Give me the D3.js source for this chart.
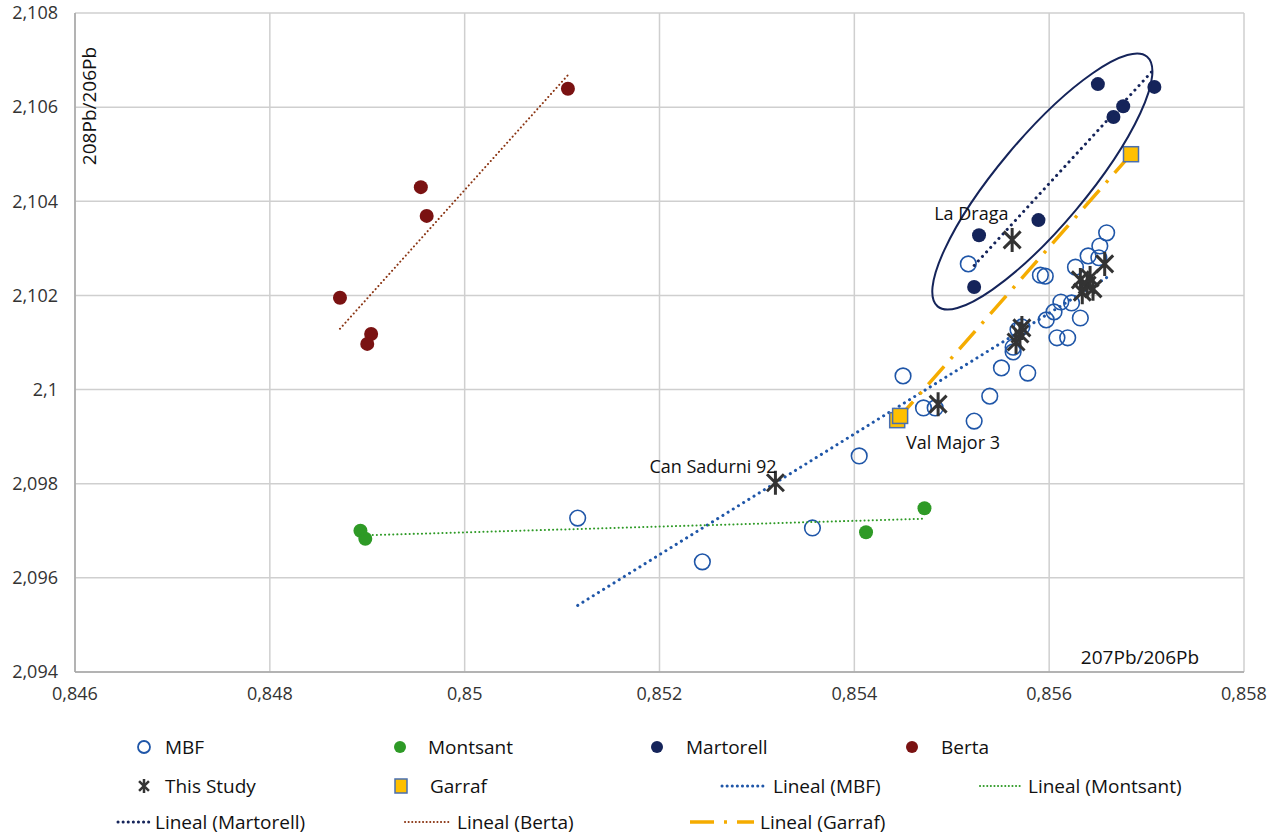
<!DOCTYPE html>
<html>
<head>
<meta charset="utf-8">
<title>Pb isotopes</title>
<script src="https://cdn.jsdelivr.net/npm/d3@7"></script>
<style>
  body { margin: 0; background: #fff; }
  svg text { font-family: "Open Sans", "Liberation Sans", sans-serif; fill: #111; }
</style>
</head>
<body>
<div id="chart"></div>
<script>
// ---- data (207Pb/206Pb, 208Pb/206Pb) ----
var mbfX = [0.85116, 0.85244, 0.85357, 0.85405, 0.85450, 0.85471, 0.85483, 0.85523, 0.85539, 0.85551,
            0.85578, 0.85563, 0.85568, 0.85572, 0.85597, 0.85608, 0.85619, 0.85632, 0.85605, 0.85612,
            0.85623, 0.85591, 0.85596, 0.85517, 0.85627, 0.85640, 0.85651, 0.85652, 0.85659, 0.85563];
var mbfY = [2.09727, 2.09634, 2.09706, 2.09859, 2.10029, 2.09961, 2.09961, 2.09933, 2.09986, 2.10046,
            2.10035, 2.10090, 2.10127, 2.10133, 2.10148, 2.10110, 2.10110, 2.10152, 2.10165, 2.10186,
            2.10184, 2.10243, 2.10241, 2.10267, 2.10260, 2.10284, 2.10280, 2.10305, 2.10333, 2.10080];

var montsantX = [0.84893, 0.84898, 0.85412, 0.85472];
var montsantY = [2.09700, 2.09683, 2.09697, 2.09748];

var martorellX = [0.85528, 0.85523, 0.85589, 0.85650, 0.85666, 0.85676, 0.85708];
var martorellY = [2.10328, 2.10218, 2.10360, 2.10649, 2.10579, 2.10602, 2.10643];

var bertaX = [0.84872, 0.84955, 0.84961, 0.84904, 0.84900, 0.85106];
var bertaY = [2.10195, 2.10430, 2.10369, 2.10118, 2.10097, 2.10639];

var studyX = [0.85319, 0.85486, 0.85562, 0.85566, 0.85570, 0.85572, 0.85632, 0.85639, 0.85634, 0.85645, 0.85642, 0.85657];
var studyY = [2.09802, 2.09969, 2.10318, 2.10101, 2.10118, 2.10131, 2.10233, 2.10222, 2.10207, 2.10214, 2.10237, 2.10267];

var garrafX = [0.85444, 0.85447, 0.85684];
var garrafY = [2.09935, 2.09944, 2.10500];

var xTicks = [0.846, 0.848, 0.85, 0.852, 0.854, 0.856, 0.858];
var yTicks = [2.094, 2.096, 2.098, 2.1, 2.102, 2.104, 2.106, 2.108];

var notes = [
  { text: "La Draga", x: 0.85562, y: 2.10318 },
  { text: "Can Sadurni 92", x: 0.85319, y: 2.09802 },
  { text: "Val Major 3", x: 0.85486, y: 2.09969 }
];

// ---- setup ----
var W = 1275, H = 834;
var pL = 75, pR = 1244, pT = 13, pB = 672;

var svg = d3.select("#chart").append("svg").attr("width", W).attr("height", H);

var x = d3.scaleLinear().domain([0.846, 0.858]).range([pL, pR]);
var y = d3.scaleLinear().domain([2.094, 2.108]).range([pB, pT]);

var loc = d3.formatLocale({ decimal: ",", thousands: ".", grouping: [3], currency: ["", ""] });
var fmt = loc.format(".3~f");

function pts(xs, ys) { return xs.map(function(v, i) { return { x: v, y: ys[i] }; }); }

// least squares fit drawn across the series range (like Excel trendline)
function fit(xs, ys) {
  var n = xs.length, mx = d3.mean(xs), my = d3.mean(ys);
  var sxy = 0, sxx = 0;
  for (var i = 0; i < n; i++) { sxy += (xs[i] - mx) * (ys[i] - my); sxx += (xs[i] - mx) * (xs[i] - mx); }
  var b = sxy / sxx, a = my - b * mx;
  var x0 = d3.min(xs), x1 = d3.max(xs);
  return [{ x: x0, y: a + b * x0 }, { x: x1, y: a + b * x1 }];
}

// ---- grid ----
svg.append("g").selectAll("line").data(xTicks).enter().append("line")
  .attr("x1", function(d) { return x(d); }).attr("x2", function(d) { return x(d); })
  .attr("y1", pT).attr("y2", pB)
  .attr("stroke", "#cfcfcf").attr("stroke-width", 1.5);
svg.append("g").selectAll("line").data(yTicks).enter().append("line")
  .attr("x1", pL).attr("x2", pR)
  .attr("y1", function(d) { return y(d); }).attr("y2", function(d) { return y(d); })
  .attr("stroke", "#cfcfcf").attr("stroke-width", 1.5);
// axis lines
svg.append("line").attr("x1", pL).attr("x2", pL).attr("y1", pT).attr("y2", pB)
  .attr("stroke", "#a6a6a6").attr("stroke-width", 1.5);
svg.append("line").attr("x1", pL).attr("x2", pR).attr("y1", pB).attr("y2", pB)
  .attr("stroke", "#a6a6a6").attr("stroke-width", 1.5);

// tick labels
svg.append("g").selectAll("text").data(yTicks).enter().append("text")
  .attr("x", 58).attr("y", function(d) { return y(d); }).attr("dy", "0.35em")
  .attr("text-anchor", "end").style("font-size", "18px").style("fill", "#333")
  .text(function(d) { return fmt(d); });
svg.append("g").selectAll("text").data(xTicks).enter().append("text")
  .attr("x", function(d) { return x(d); }).attr("y", 700)
  .attr("text-anchor", "middle").style("font-size", "18px").style("fill", "#333")
  .text(function(d) { return fmt(d); });

// axis titles
svg.append("text").attr("transform", "translate(96,106) rotate(-90)")
  .attr("text-anchor", "middle").style("font-size", "19px").text("208Pb/206Pb");
svg.append("text").attr("x", 1140).attr("y", 664)
  .attr("text-anchor", "middle").style("font-size", "19px").text("207Pb/206Pb");

// ---- trendlines ----
var line = d3.line().x(function(d) { return x(d.x); }).y(function(d) { return y(d.y); });
var trends = [
  { xs: mbfX, ys: mbfY, color: "#1f56a8", w: 3, dash: "0.1 6", cap: "round" },
  { xs: montsantX, ys: montsantY, color: "#2e9a26", w: 2, dash: "0.1 4", cap: "round" },
  { xs: martorellX, ys: martorellY, color: "#15245a", w: 3, dash: "0.1 6", cap: "round" },
  { xs: bertaX, ys: bertaY, color: "#8a3412", w: 2, dash: "0.1 4", cap: "round" },
  { xs: garrafX, ys: garrafY, color: "#f5ac00", w: 3.5, dash: "24 10 3 10", cap: "butt" }
];

// ---- markers ----
var g = svg.append("g");
g.selectAll(".mbf").data(pts(mbfX, mbfY)).enter().append("circle")
  .attr("cx", function(d) { return x(d.x); }).attr("cy", function(d) { return y(d.y); })
  .attr("r", 7.8).attr("fill", "none").attr("stroke", "#1f56a8").attr("stroke-width", 1.6);

function dots(xs, ys, color) {
  g.append("g").selectAll("circle").data(pts(xs, ys)).enter().append("circle")
    .attr("cx", function(d) { return x(d.x); }).attr("cy", function(d) { return y(d.y); })
    .attr("r", 7).attr("fill", color);
}
dots(montsantX, montsantY, "#2e9a26");
dots(martorellX, martorellY, "#15245a");
dots(bertaX, bertaY, "#7a1212");

trends.forEach(function(t) {
  svg.append("path").datum(fit(t.xs, t.ys)).attr("d", line)
    .attr("fill", "none").attr("stroke", t.color).attr("stroke-width", t.w)
    .attr("stroke-dasharray", t.dash).attr("stroke-linecap", t.cap);
});

function star(s) {
  var a = s * Math.SQRT1_2;
  return "M0," + (-s) + "L0," + s + "M" + (-a) + "," + (-a) + "L" + a + "," + a +
         "M" + (-a) + "," + a + "L" + a + "," + (-a);
}
svg.append("g").selectAll("path").data(pts(studyX, studyY)).enter().append("path")
  .attr("transform", function(d) { return "translate(" + x(d.x) + "," + y(d.y) + ")"; })
  .attr("d", star(12)).attr("stroke", "#333").attr("stroke-width", 3).attr("fill", "none");

svg.append("g").selectAll("rect").data(pts(garrafX, garrafY)).enter().append("rect")
  .attr("x", function(d) { return x(d.x) - 7.5; }).attr("y", function(d) { return y(d.y) - 7.5; })
  .attr("width", 15).attr("height", 15)
  .attr("fill", "#ffc000").attr("stroke", "#4a6fae").attr("stroke-width", 1.5);

// ---- annotation ellipse around Martorell ----
var ell = { x: 0.85593, y: 2.10442, rx: 163, ry: 44, rot: -50 };
svg.append("ellipse")
  .attr("transform", "translate(" + x(ell.x) + "," + y(ell.y) + ") rotate(" + ell.rot + ")")
  .attr("rx", ell.rx).attr("ry", ell.ry)
  .attr("fill", "none").attr("stroke", "#15245a").attr("stroke-width", 2);

// labels
var noteOff = { "La Draga": [-78, -20], "Can Sadurni 92": [-126, -10], "Val Major 3": [-32, 45] };
svg.append("g").selectAll("text").data(notes).enter().append("text")
  .attr("x", function(d) { return x(d.x) + noteOff[d.text][0]; })
  .attr("y", function(d) { return y(d.y) + noteOff[d.text][1]; })
  .style("font-size", "18px").text(function(d) { return d.text; });

// ---- legend ----
var legend = [
  { label: "MBF", type: "open", color: "#1f56a8", sx: 144, tx: 165, row: 0 },
  { label: "Montsant", type: "dot", color: "#2e9a26", sx: 400, tx: 428, row: 0 },
  { label: "Martorell", type: "dot", color: "#15245a", sx: 657, tx: 686, row: 0 },
  { label: "Berta", type: "dot", color: "#7a1212", sx: 912, tx: 941, row: 0 },
  { label: "This Study", type: "star", color: "#333", sx: 144, tx: 165, row: 1 },
  { label: "Garraf", type: "square", color: "#ffc000", sx: 401, tx: 430, row: 1 },
  { label: "Lineal (MBF)", type: "line", t: 0, sx: 722, tx: 773, row: 1 },
  { label: "Lineal (Montsant)", type: "line", t: 1, sx: 980, tx: 1028, row: 1 },
  { label: "Lineal (Martorell)", type: "line", t: 2, sx: 118, tx: 155, row: 2 },
  { label: "Lineal (Berta)", type: "line", t: 3, sx: 405, tx: 457, row: 2 },
  { label: "Lineal (Garraf)", type: "line", t: 4, sx: 690, tx: 760, row: 2 }
];
var rowY = [747, 786, 822];
var lg = svg.append("g");
legend.forEach(function(d) {
  var cy = rowY[d.row];
  if (d.type === "open") {
    lg.append("circle").attr("cx", d.sx).attr("cy", cy).attr("r", 6).attr("fill", "none")
      .attr("stroke", d.color).attr("stroke-width", 1.8);
  } else if (d.type === "dot") {
    lg.append("circle").attr("cx", d.sx).attr("cy", cy).attr("r", 6).attr("fill", d.color);
  } else if (d.type === "star") {
    lg.append("path").attr("transform", "translate(" + d.sx + "," + cy + ")")
      .attr("d", star(7)).attr("stroke", d.color).attr("stroke-width", 2.5);
  } else if (d.type === "square") {
    lg.append("rect").attr("x", d.sx - 6).attr("y", cy - 7).attr("width", 12).attr("height", 14)
      .attr("fill", d.color).attr("stroke", "#4a6fae").attr("stroke-width", 1.5);
  } else {
    var t = trends[d.t];
    lg.append("line").attr("x1", d.sx).attr("x2", d.tx - 6).attr("y1", cy).attr("y2", cy)
      .attr("stroke", t.color).attr("stroke-width", t.w)
      .attr("stroke-dasharray", d.t === 4 ? "24 10 3 10" : (t.w > 2.5 ? "0.1 5" : "0.1 3.5"))
      .attr("stroke-linecap", t.cap);
  }
  lg.append("text").attr("x", d.tx).attr("y", cy).attr("dy", "0.35em")
    .style("font-size", "19px").text(d.label);
});
</script>
</body>
</html>
